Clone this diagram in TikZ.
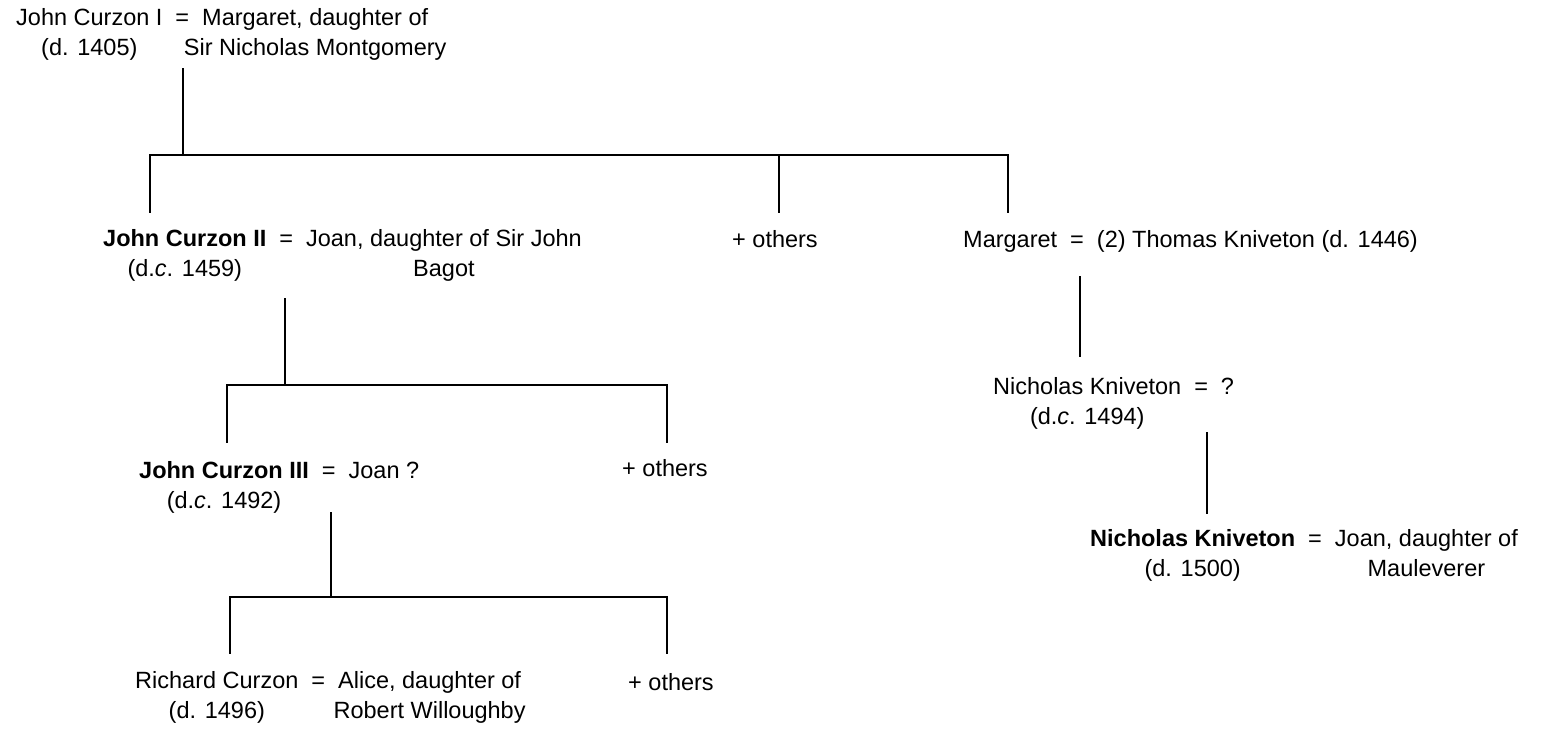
\documentclass[tikz,border=0pt]{standalone}
\usepackage{fontspec}
\setmainfont{Liberation Sans}
\usepackage{tikz}
\usetikzlibrary{calc}
\tikzstyle{couple} = [
    anchor=base west,
    inner sep=0pt,
    font=\fontsize{23.5}{30}\selectfont
    ]
\tikzstyle{stem} = [
    draw=black,
    line width=2pt
    ]
\newlength{\spousewidth}
\newcommand{\pair}[4]{% name, death, spouse, spouse second line
\settowidth{\spousewidth}{#3}%
\begin{tabular}[t]{@{}c@{\hspace{13pt}}c@{\hspace{13pt}}l@{}}
#1 & = & #3\\
#2 &   & \makebox[\spousewidth][c]{#4}
\end{tabular}}
\newcommand{\one}[1]{% single line
\begin{tabular}[t]{@{}l@{}}#1\end{tabular}}

\begin{document}
\begin{tikzpicture}[x=1pt, y=-1pt]
\useasboundingbox (0,0) rectangle (1551,733);

% people
\node[couple] (curzonI) at (16,26) {\pair{John Curzon I}{(d. 1405)}{Margaret, daughter of}{Sir Nicholas Montgomery}};
\node[couple] (curzonII) at (103,246) {\pair{\textbf{John Curzon II}}{(d.\textit{c}. 1459)}{Joan, daughter of Sir John}{Bagot}};
\node[couple] (others1) at (732,247) {\one{+ others}};
\node[couple] (margaret) at (963,247) {\one{Margaret\hspace{13pt}=\hspace{13pt}(2) Thomas Kniveton (d. 1446)}};
\node[couple] (curzonIII) at (139,478) {\pair{\textbf{John Curzon III}}{(d.\textit{c}. 1492)}{Joan ?}{}};
\node[couple] (others2) at (622,476) {\one{+ others}};
\node[couple] (richard) at (135,688) {\pair{Richard Curzon}{(d. 1496)}{Alice, daughter of}{Robert Willoughby}};
\node[couple] (others3) at (628,690) {\one{+ others}};
\node[couple] (knivetonI) at (993,394) {\pair{Nicholas Kniveton}{(d.\textit{c}. 1494)}{?}{}};
\node[couple] (knivetonII) at (1090,546) {\pair{\textbf{Nicholas Kniveton}}{(d. 1500)}{Joan, daughter of}{Mauleverer}};

% junctions
\coordinate (d1) at (183,155);
\coordinate (b1l) at (150,155);
\coordinate (b1m) at (779,155);
\coordinate (b1r) at (1008,155);
\coordinate (d2) at (285,385);
\coordinate (b2l) at (227,385);
\coordinate (b2r) at (667,385);
\coordinate (d3) at (331,597);
\coordinate (b3l) at (230,597);
\coordinate (b3r) at (667,597);
\coordinate (k1) at (1080,300);
\coordinate (k2) at (1207,480);

% John Curzon I
\draw[stem] ($(curzonI.south -| d1)+(0,3)$) -- (d1);
\draw[stem] ($(curzonII.north -| b1l)+(0,-12)$) -- (b1l) -- (b1r) -- ($(margaret.north -| b1r)+(0,-13)$);
\draw[stem] (b1m) -- ($(others1.north -| b1m)+(0,-13)$);

% John Curzon II
\draw[stem] ($(curzonII.south -| d2)+(0,13)$) -- (d2);
\draw[stem] ($(curzonIII.north -| b2l)+(0,-14)$) -- (b2l) -- (b2r) -- ($(others2.north -| b2r)+(0,-12)$);

% John Curzon III
\draw[stem] ($(curzonIII.south -| d3)+(0,-5)$) -- (d3);
\draw[stem] ($(richard.north -| b3l)+(0,-13)$) -- (b3l) -- (b3r) -- ($(others3.north -| b3r)+(0,-15)$);

% Kniveton line
\draw[stem] ($(margaret.south -| k1)+(0,20)$) -- ($(knivetonI.north -| k1)+(0,-16)$);
\draw[stem] ($(knivetonI.south -| k2)+(0,-1)$) -- ($(knivetonII.north -| k2)+(0,-11)$);
\end{tikzpicture}
\end{document}
